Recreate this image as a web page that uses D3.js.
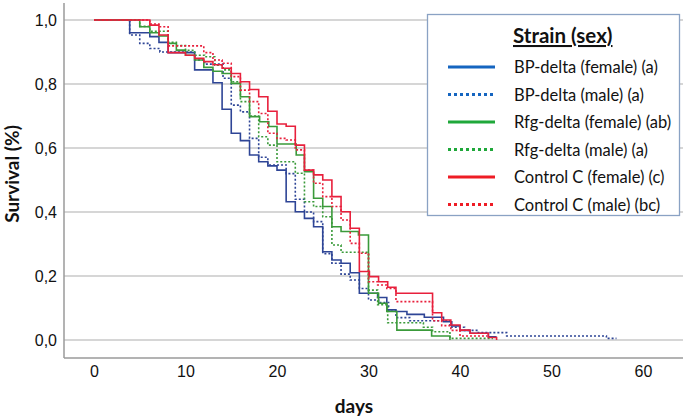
<!DOCTYPE html>
<html><head><meta charset="utf-8">
<script src="https://cdn.jsdelivr.net/npm/d3@7"></script>
<style>body{margin:0;background:#fff;} svg{display:block}</style>
</head><body>
<svg id="c" width="685" height="419"></svg>
<script>
// ---- data (days, survival proportion after that day) ----
const xTicks = [0, 10, 20, 30, 40, 50, 60];
const yTicks = [0, 0.2, 0.4, 0.6, 0.8, 1.0];
const legendTitle = "Strain (sex)";
const seriesNames = ["BP-delta (female) (a)", "BP-delta (male) (a)", "Rfg-delta (female) (ab)",
  "Rfg-delta (male) (a)", "Control C (female) (c)", "Control C (male) (bc)"];

const bpFemale = [[0,1],[3.9,0.96],[6.1,0.948],[7.1,0.93],[8.1,0.898],[11.0,0.844],[13.0,0.804],[14.0,0.721],
  [15.0,0.646],[16.0,0.623],[17.0,0.578],[18.0,0.557],[19.0,0.544],[20.0,0.531],[21.0,0.432],[22.0,0.401],
  [23.0,0.380],[24.0,0.354],[25.0,0.276],[26.0,0.25],[27.0,0.24],[28.0,0.21],[29.0,0.146],[31.0,0.133],
  [32.0,0.094],[33.0,0.089],[34.2,0.08],[36.1,0.071],[38.2,0.057],[39.1,0.044],[40.0,0.03],[41.1,0.021],
  [43.1,0.010],[44.0,0.010]];
const bpMale = [[0,1],[3.9,0.953],[5.0,0.927],[6.1,0.911],[7.2,0.90],[11.0,0.875],[12.1,0.862],[14.1,0.818],
  [15.0,0.734],[16.0,0.713],[17.0,0.63],[18.0,0.571],[19.0,0.547],[21.0,0.52],[22.0,0.44],[23.0,0.40],
  [24.0,0.37],[25.0,0.27],[26.0,0.24],[27.0,0.206],[28.0,0.1875],[29.0,0.161],[30.0,0.125],[31.1,0.117],
  [32.2,0.09],[33.0,0.07],[34.5,0.06],[38.9,0.04],[40.5,0.03],[42.0,0.023],[45.1,0.0125],[56.0,0.005],[57.1,0.005]];
const rfgFemale = [[0,1],[5.0,0.979],[6.1,0.960],[7.1,0.95],[8.1,0.927],[9.0,0.906],[10.0,0.89],[11.0,0.875],
  [12.0,0.852],[13.0,0.84],[14.0,0.833],[15.0,0.802],[16.0,0.760],[17.0,0.698],[18.1,0.682],[19.1,0.667],
  [20.0,0.6125],[22.1,0.578],[23.0,0.526],[24.0,0.443],[25.0,0.417],[26.0,0.354],[27.0,0.339],[28.9,0.328],
  [30.0,0.146],[31.1,0.115],[32.0,0.089],[33.1,0.031],[36.9,0.0125],[38.9,0.0]];
const rfgMale = [[0,1],[5.0,0.98],[6.1,0.965],[8.1,0.93],[9.0,0.92],[10.0,0.905],[11.0,0.89],[12.1,0.885],
  [13.2,0.859],[14.1,0.844],[15.0,0.807],[16.0,0.745],[17.0,0.70],[18.0,0.635],[19.0,0.609],[20.0,0.557],
  [22.0,0.521],[23.0,0.432],[24.0,0.417],[25.0,0.385],[26.0,0.297],[27.0,0.274],[30.0,0.156],[31.0,0.11],
  [32.1,0.054],[36.0,0.040],[37.0,0.026],[38.9,0.005],[43.6,0.005]];
const ctrlFemale = [[0,1],[6.1,0.984],[7.1,0.953],[8.1,0.898],[10.0,0.89],[11.0,0.88],[12.0,0.870],[13.0,0.86],
  [14.0,0.849],[15.0,0.833],[16.0,0.807],[17.0,0.783],[18.0,0.760],[19.0,0.715],[20.0,0.675],[21.0,0.668],
  [22.0,0.609],[23.0,0.531],[24.0,0.516],[25.0,0.50],[26.0,0.448],[27.0,0.401],[28.0,0.349],[29.0,0.214],
  [30.1,0.198],[31.1,0.182],[32.1,0.165],[33.0,0.146],[37.0,0.085],[38.0,0.0625],[39.0,0.047],[40.0,0.031],
  [41.1,0.021],[43.1,0.008],[44.0,0.0]];
const ctrlMale = [[0,1],[6.1,0.9875],[7.1,0.979],[8.1,0.919],[12.0,0.898],[13.0,0.875],[14.0,0.865],[15.0,0.823],
  [16.0,0.781],[17.0,0.745],[18.0,0.708],[19.0,0.646],[20.0,0.630],[21.0,0.625],[22.0,0.594],[23.0,0.531],
  [24.0,0.49],[25.0,0.448],[26.0,0.417],[27.0,0.375],[28.0,0.302],[29.0,0.271],[30.0,0.182],[31.0,0.172],
  [32.0,0.161],[33.0,0.12],[37.0,0.06],[38.0,0.045],[39.0,0.03],[40.0,0.0125],[43.0,0.0125]];

const seriesData = [bpFemale, bpMale, rfgFemale, rfgMale, ctrlFemale, ctrlMale];
// ---- styles ----
const lineColors = ["#2e4596", "#2e4596", "#3a9a3a", "#3a9a3a", "#e8203c", "#e8203c"];
const legendColors = ["#1565c0", "#1565c0", "#1fa83a", "#1fa83a", "#ee1c25", "#ee1c25"];
const dashed = [false, true, false, true, false, true];

(function () {
const svg = d3.select("#c");
const x = d3.scaleLinear().domain([0, 60]).range([94, 643]);
const y = d3.scaleLinear().domain([0, 1]).range([340, 20]);
const pLeft = 64, pRight = 683, pBottom = 358, pTop = 3;

// gridlines
svg.append("g").selectAll("line").data(yTicks).join("line")
  .attr("x1", pLeft).attr("x2", pRight).attr("y1", d => y(d)).attr("y2", d => y(d))
  .attr("stroke", "#c8c8c8").attr("stroke-width", 1.3);

// axes
const fmt = d => d3.format(".1f")(d).replace(".", ",");
const yAxis = svg.append("g").attr("transform", `translate(${pLeft},0)`)
  .call(d3.axisLeft(y).tickValues(yTicks).tickFormat(fmt).tickSize(0).tickPadding(7));
yAxis.select(".domain").remove();
yAxis.selectAll("text").attr("font-family", "Liberation Sans, Arial, sans-serif").attr("font-size", 16).attr("fill", "#111");
const xAxis = svg.append("g").attr("transform", `translate(0,${pBottom})`)
  .call(d3.axisBottom(x).tickValues(xTicks).tickFormat(d3.format("d")).tickSize(0).tickPadding(8));
xAxis.select(".domain").remove();
xAxis.selectAll("text").attr("font-family", "Liberation Sans, Arial, sans-serif").attr("font-size", 16).attr("fill", "#111");

svg.append("line").attr("x1", pLeft).attr("x2", pLeft).attr("y1", pTop).attr("y2", pBottom)
  .attr("stroke", "#9a9a9a").attr("stroke-width", 1.5);
svg.append("line").attr("x1", pLeft).attr("x2", pRight).attr("y1", pBottom).attr("y2", pBottom)
  .attr("stroke", "#9a9a9a").attr("stroke-width", 1.5);

// titles
svg.append("text").attr("transform", "translate(19,174) rotate(-90)").attr("text-anchor", "middle")
  .attr("font-family", "Lato, sans-serif").attr("font-weight", "bold").attr("font-size", 19).attr("fill", "#111")
  .text("Survival (%)");
svg.append("text").attr("x", 354).attr("y", 413).attr("text-anchor", "middle")
  .attr("font-family", "Lato, sans-serif").attr("font-weight", "bold").attr("font-size", 19).attr("fill", "#111")
  .text("days");

// curves
const line = d3.line().x(d => x(d[0])).y(d => y(d[1])).curve(d3.curveStepAfter);
svg.append("g").selectAll("path").data(seriesData).join("path")
  .attr("d", line).attr("fill", "none")
  .attr("stroke", (d, i) => lineColors[i]).attr("stroke-width", 1.6)
  .attr("stroke-dasharray", (d, i) => dashed[i] ? "2,2" : null);

// legend
const lg = svg.append("g");
lg.append("rect").attr("x", 427.5).attr("y", 14.5).attr("width", 252).attr("height", 201)
  .attr("fill", "#fff").attr("stroke", "#8aa2c4").attr("stroke-width", 1.3);
lg.append("text").attr("x", 513).attr("y", 43).attr("font-family", "Lato, sans-serif").attr("font-weight", "bold")
  .attr("font-size", 20.5).attr("fill", "#111").attr("text-decoration", "underline").text(legendTitle);
const rows = lg.selectAll("g.row").data(seriesNames).join("g").attr("class", "row")
  .attr("transform", (d, i) => `translate(0,${67 + i * 27.5})`);
rows.append("line").attr("x1", 448).attr("x2", 495).attr("y1", 0).attr("y2", 0)
  .attr("stroke", (d, i) => legendColors[i]).attr("stroke-width", 3)
  .attr("stroke-dasharray", (d, i) => dashed[i] ? "3,3" : null);
rows.append("text").attr("x", 514).attr("y", 6).attr("font-family", "Lato, sans-serif")
  .attr("font-size", 16.5).attr("fill", "#111").text(d => d);
})();
</script>
</body></html>
